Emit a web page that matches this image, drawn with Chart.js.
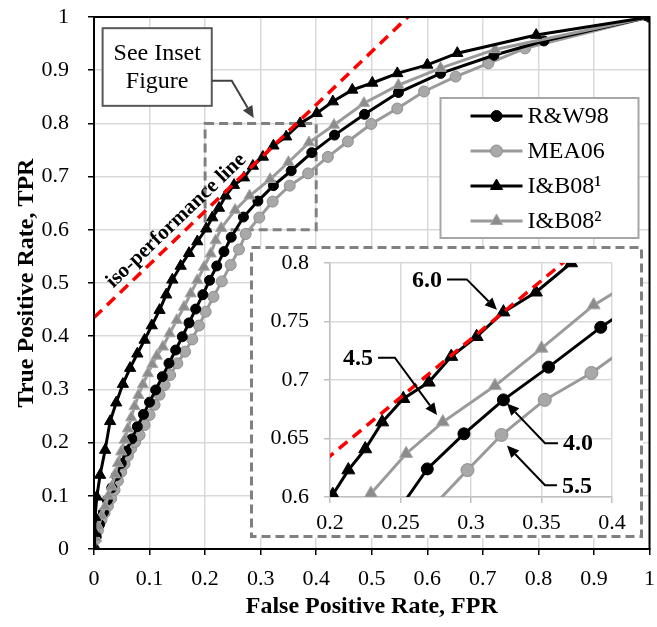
<!DOCTYPE html>
<html>
<head>
<meta charset="utf-8">
<script src="https://cdn.jsdelivr.net/npm/chart.js@4.4.0/dist/chart.umd.min.js"></script>
<style>
  body { margin: 0; background: #fff; }
  #wrap { position: relative; width: 657px; height: 627px; }
  #main { position: absolute; left: 0; top: 0; }
  #inset { position: absolute; left: 250px; top: 246px; }
</style>
</head>
<body>
<div id="wrap">
  <canvas id="main" width="657" height="627"></canvas>
  <canvas id="inset" width="393" height="292"></canvas>
</div>
<script>
// ROC points (FPR, TPR)
const fprRW98 = [0, 0.004, 0.010, 0.017, 0.024, 0.032, 0.040, 0.049, 0.058, 0.068, 0.078, 0.089, 0.100, 0.111, 0.123, 0.135, 0.147, 0.159, 0.171, 0.183, 0.196, 0.208, 0.221, 0.234, 0.247, 0.269, 0.295, 0.323, 0.355, 0.392, 0.433, 0.487, 0.548, 0.624, 0.720, 0.810, 1];
const tprRW98 = [0, 0.023, 0.046, 0.069, 0.092, 0.115, 0.138, 0.161, 0.184, 0.207, 0.230, 0.253, 0.276, 0.299, 0.324, 0.349, 0.374, 0.399, 0.425, 0.451, 0.478, 0.505, 0.532, 0.559, 0.586, 0.624, 0.654, 0.683, 0.711, 0.745, 0.778, 0.817, 0.858, 0.894, 0.928, 0.955, 1];

const fprMEA06 = [0, 0.002, 0.007, 0.013, 0.019, 0.025, 0.031, 0.037, 0.043, 0.049, 0.055, 0.061, 0.067, 0.074, 0.082, 0.091, 0.100, 0.109, 0.118, 0.127, 0.137, 0.150, 0.164, 0.177, 0.189, 0.201, 0.215, 0.230, 0.246, 0.261, 0.273, 0.2975, 0.3216, 0.3523, 0.3854, 0.421, 0.457, 0.499, 0.546, 0.594, 0.651, 0.710, 0.776, 1];
const tprMEA06 = [0, 0.017, 0.035, 0.054, 0.068, 0.081, 0.095, 0.111, 0.128, 0.145, 0.160, 0.175, 0.189, 0.201, 0.214, 0.233, 0.252, 0.271, 0.290, 0.308, 0.327, 0.349, 0.371, 0.394, 0.420, 0.446, 0.474, 0.503, 0.534, 0.563, 0.592, 0.623, 0.653, 0.683, 0.706, 0.737, 0.766, 0.799, 0.828, 0.860, 0.888, 0.913, 0.941, 1];

const fprIB08a = [0, 0.001, 0.002, 0.005, 0.011, 0.020, 0.029, 0.040, 0.052, 0.065, 0.078, 0.091, 0.104, 0.118, 0.130, 0.141, 0.156, 0.171, 0.186, 0.202, 0.213, 0.225, 0.237, 0.252, 0.270, 0.286, 0.304, 0.323, 0.346, 0.371, 0.401, 0.430, 0.465, 0.501, 0.546, 0.600, 0.654, 0.796, 1];
const tprIB08a = [0, 0.030, 0.060, 0.098, 0.139, 0.186, 0.240, 0.275, 0.310, 0.340, 0.367, 0.393, 0.420, 0.449, 0.478, 0.506, 0.532, 0.556, 0.578, 0.602, 0.623, 0.641, 0.664, 0.684, 0.698, 0.720, 0.737, 0.758, 0.775, 0.800, 0.819, 0.841, 0.863, 0.876, 0.894, 0.910, 0.932, 0.966, 1];

const fprIB08b = [0, 0.004, 0.008, 0.014, 0.020, 0.026, 0.032, 0.038, 0.043, 0.049, 0.055, 0.061, 0.067, 0.073, 0.080, 0.088, 0.097, 0.105, 0.113, 0.124, 0.136, 0.149, 0.162, 0.174, 0.186, 0.198, 0.210, 0.219, 0.229, 0.254, 0.280, 0.317, 0.350, 0.387, 0.432, 0.486, 0.548, 0.624, 0.722, 1];
const tprIB08b = [0, 0.020, 0.042, 0.062, 0.080, 0.100, 0.117, 0.140, 0.161, 0.183, 0.205, 0.226, 0.247, 0.268, 0.289, 0.309, 0.330, 0.347, 0.363, 0.380, 0.405, 0.430, 0.455, 0.480, 0.505, 0.530, 0.555, 0.580, 0.603, 0.637, 0.664, 0.695, 0.727, 0.764, 0.797, 0.838, 0.872, 0.904, 0.939, 1];

// iso-performance line end points
const isoFpr = [0, 0.565];
const isoTpr = [0.435, 1.0];

const seriesNames = ['R&W98', 'MEA06', 'I&B08\u00B9', 'I&B08\u00B2'];
const seriesFpr = [fprRW98, fprMEA06, fprIB08a, fprIB08b];
const seriesTpr = [tprRW98, tprMEA06, tprIB08a, tprIB08b];

// threshold labels in the inset
const thresholdLabels = ['6.0', '4.5', '4.0', '5.5'];

const FONT = '"Liberation Serif", "Times New Roman", serif';

const looks = [
    { line: '#000000', fill: '#000000', edge: '#000000', shape: 'circle', r: 5, order: 3 },
    { line: '#9a9a9a', fill: '#a8a8a8', edge: '#8e8e8e', shape: 'circle', r: 5.5, order: 4 },
    { line: '#000000', fill: '#000000', edge: '#000000', shape: 'triangle', r: 6.5, order: 1 },
    { line: '#9a9a9a', fill: '#8c8c8c', edge: '#a8a8a8', shape: 'triangle', r: 6.5, order: 2 }
];

function toPoints(xs, ys) {
    return xs.map((x, i) => ({ x: x, y: ys[i] }));
}

function tickText(v) {
    return String(Math.round(v * 100) / 100);
}

function buildDatasets(grow) {
    const sets = seriesNames.map((name, i) => ({
        label: name,
        data: toPoints(seriesFpr[i], seriesTpr[i]),
        showLine: true,
        borderColor: looks[i].line,
        borderWidth: 3,
        pointStyle: looks[i].shape,
        pointRadius: looks[i].r + grow,
        pointBackgroundColor: looks[i].fill,
        pointBorderColor: looks[i].edge,
        pointBorderWidth: 1,
        order: looks[i].order
    }));
    sets.push({
        label: 'iso-performance line',
        data: toPoints(isoFpr, isoTpr),
        showLine: true,
        borderColor: '#ff0000',
        borderWidth: 3.5,
        borderDash: [11, 7],
        pointRadius: 0,
        order: 0
    });
    return sets;
}

function marker(ctx, shape, x, y, r, fill, edge) {
    ctx.save();
    ctx.fillStyle = fill;
    ctx.strokeStyle = edge;
    ctx.lineWidth = 1;
    ctx.setLineDash([]);
    ctx.beginPath();
    if (shape === 'circle') {
        ctx.arc(x, y, r, 0, Math.PI * 2);
    } else {
        for (let k = 0; k < 3; k++) {
            const a = k * 2 * Math.PI / 3;
            const px = x + Math.sin(a) * r, py = y - Math.cos(a) * r;
            if (k === 0) ctx.moveTo(px, py); else ctx.lineTo(px, py);
        }
        ctx.closePath();
    }
    ctx.fill();
    ctx.stroke();
    ctx.restore();
}

function arrow(ctx, pts, color, width) {
    const n = pts.length;
    const [ex, ey] = pts[n - 1];
    const [px, py] = pts[n - 2];
    const ang = Math.atan2(ey - py, ex - px);
    const head = 12, half = 5.5;
    ctx.save();
    ctx.strokeStyle = color;
    ctx.fillStyle = color;
    ctx.lineWidth = width;
    ctx.setLineDash([]);
    ctx.beginPath();
    ctx.moveTo(pts[0][0], pts[0][1]);
    for (let i = 1; i < n - 1; i++) ctx.lineTo(pts[i][0], pts[i][1]);
    ctx.lineTo(ex - Math.cos(ang) * head, ey - Math.sin(ang) * head);
    ctx.stroke();
    ctx.beginPath();
    ctx.moveTo(ex, ey);
    ctx.lineTo(ex - Math.cos(ang) * head - Math.sin(ang) * half, ey - Math.sin(ang) * head + Math.cos(ang) * half);
    ctx.lineTo(ex - Math.cos(ang) * head + Math.sin(ang) * half, ey - Math.sin(ang) * head - Math.cos(ang) * half);
    ctx.closePath();
    ctx.fill();
    ctx.restore();
}

// decorations for the main chart
const mainDecor = {
    id: 'mainDecor',
    beforeDatasetsDraw(chart) {
        const { ctx, scales: { x, y } } = chart;
        // dashed zoom box (0.2-0.4, 0.6-0.8)
        ctx.save();
        ctx.strokeStyle = '#808080';
        ctx.lineWidth = 3;
        ctx.setLineDash([9, 5]);
        const x0 = x.getPixelForValue(0.2), x1 = x.getPixelForValue(0.4);
        const y0 = y.getPixelForValue(0.8), y1 = y.getPixelForValue(0.6);
        ctx.strokeRect(x0, y0, x1 - x0, y1 - y0);
        ctx.restore();
    },
    afterDatasetsDraw(chart) {
        const { ctx, chartArea: a, scales: { x, y } } = chart;
        const X = v => x.getPixelForValue(v), Y = v => y.getPixelForValue(v);

        // frame
        ctx.save();
        ctx.strokeStyle = '#000';
        ctx.lineWidth = 2;
        ctx.strokeRect(a.left, a.top, a.right - a.left, a.bottom - a.top);
        ctx.restore();

        // iso-performance label, parallel to the red line
        const ang = Math.atan2(Y(isoTpr[1]) - Y(isoTpr[0]), X(isoFpr[1]) - X(isoFpr[0]));
        ctx.save();
        ctx.translate(X(0.148), Y(0.617));
        ctx.rotate(ang);
        ctx.font = 'bold 21px ' + FONT;
        ctx.fillStyle = '#000';
        ctx.textAlign = 'center';
        ctx.textBaseline = 'middle';
        ctx.fillText('iso-performance line', 0, 0);
        ctx.restore();

        // "See Inset Figure" box and arrow
        const bx0 = X(0.0155), bx1 = X(0.212), by0 = Y(0.979), by1 = Y(0.833);
        ctx.save();
        ctx.fillStyle = '#fff';
        ctx.fillRect(bx0, by0, bx1 - bx0, by1 - by0);
        ctx.strokeStyle = '#595959';
        ctx.lineWidth = 2;
        ctx.strokeRect(bx0, by0, bx1 - bx0, by1 - by0);
        ctx.fillStyle = '#000';
        ctx.font = '24px ' + FONT;
        ctx.textAlign = 'center';
        ctx.textBaseline = 'middle';
        const cx = (bx0 + bx1) / 2, cy = (by0 + by1) / 2;
        ctx.fillText('See Inset', cx, cy - 13);
        ctx.fillText('Figure', cx, cy + 15);
        ctx.restore();
        arrow(ctx, [[bx1, Y(0.880)], [X(0.248), Y(0.880)], [X(0.2875), Y(0.810)]], '#404040', 2);

        // legend
        const lx = a.right - 209, ly = a.top + 81, lw = 198, lh = 140;
        ctx.save();
        ctx.fillStyle = '#fff';
        ctx.fillRect(lx, ly, lw, lh);
        ctx.strokeStyle = '#a6a6a6';
        ctx.lineWidth = 2;
        ctx.strokeRect(lx, ly, lw, lh);
        ctx.font = '24px ' + FONT;
        ctx.textBaseline = 'middle';
        seriesNames.forEach((name, i) => {
            const ry = ly + 18 + i * 35;
            ctx.strokeStyle = looks[i].line;
            ctx.lineWidth = 3;
            ctx.beginPath();
            ctx.moveTo(lx + 30, ry);
            ctx.lineTo(lx + 82, ry);
            ctx.stroke();
            marker(ctx, looks[i].shape, lx + 56, ry, looks[i].r + 0.5, looks[i].fill, looks[i].edge);
            ctx.fillStyle = '#000';
            ctx.fillText(name, lx + 87, ry + 1);
        });
        ctx.restore();
    }
};

// decorations for the inset
const insetNotes = [
    { text: thresholdLabels[0], at: [0.2688, 0.786], elbow: [0.297, 0.786], tip: [0.3184, 0.760] },
    { text: thresholdLabels[1], at: [0.2199, 0.719], elbow: [0.246, 0.719], tip: [0.2759, 0.670] },
    { text: thresholdLabels[2], at: [0.3759, 0.646], elbow: [0.3525, 0.646], tip: [0.3255, 0.680] },
    { text: thresholdLabels[3], at: [0.3752, 0.610], elbow: [0.3525, 0.610], tip: [0.3255, 0.644] }
];

const insetDecor = {
    id: 'insetDecor',
    beforeDraw(chart) {
        const { ctx, width, height } = chart;
        ctx.save();
        ctx.fillStyle = '#fff';
        ctx.fillRect(0, 0, width, height);
        ctx.restore();
    },
    afterDatasetsDraw(chart) {
        const { ctx, scales: { x, y } } = chart;
        const X = v => x.getPixelForValue(v), Y = v => y.getPixelForValue(v);
        ctx.save();
        ctx.font = 'bold 24px ' + FONT;
        ctx.fillStyle = '#000';
        ctx.textAlign = 'center';
        ctx.textBaseline = 'middle';
        insetNotes.forEach(n => {
            const tx = X(n.at[0]), ty = Y(n.at[1]);
            ctx.fillText(n.text, tx, ty + 1);
            const w = ctx.measureText(n.text).width / 2 + 5;
            const ex = X(n.elbow[0]);
            const sx = ex > tx ? tx + w : tx - w;
            arrow(ctx, [[sx, ty], [ex, Y(n.elbow[1])], [X(n.tip[0]), Y(n.tip[1])]], '#000', 2);
        });
        ctx.restore();
    },
    afterDraw(chart) {
        const { ctx, width, height } = chart;
        ctx.save();
        ctx.strokeStyle = '#808080';
        ctx.lineWidth = 3;
        ctx.setLineDash([9, 5]);
        ctx.strokeRect(1.5, 1.5, width - 3, height - 3);
        ctx.restore();
    }
};

new Chart(document.getElementById('main'), {
    type: 'scatter',
    data: { datasets: buildDatasets(0) },
    options: {
        responsive: false,
        animation: false,
        layout: { padding: { top: 17, right: 3, left: 0, bottom: 0 } },
        plugins: { legend: { display: false }, tooltip: { enabled: false } },
        scales: {
            x: {
                type: 'linear', min: 0, max: 1,
                ticks: { stepSize: 0.1, color: '#000', font: { family: FONT, size: 22 }, padding: 11, maxRotation: 0, callback: tickText },
                grid: { color: '#d9d9d9', lineWidth: 1.5, tickColor: '#000', tickLength: 6 },
                border: { color: '#000', width: 2 },
                title: { display: true, text: 'False Positive Rate, FPR', color: '#000', font: { family: FONT, size: 24, weight: 'bold' }, padding: 6 },
                afterFit(s) { s.height = 78; s.paddingLeft = 0; s.paddingRight = 0; }
            },
            y: {
                type: 'linear', min: 0, max: 1,
                ticks: { stepSize: 0.1, color: '#000', font: { family: FONT, size: 22 }, padding: 19, callback: tickText },
                grid: { color: '#d9d9d9', lineWidth: 1.5, tickColor: '#000', tickLength: 6 },
                border: { color: '#000', width: 2 },
                title: { display: true, text: 'True Positive Rate, TPR', color: '#000', font: { family: FONT, size: 24, weight: 'bold' }, padding: { top: 12, bottom: 0 } },
                afterFit(s) { s.width = 94; s.paddingTop = 0; s.paddingBottom = 0; }
            }
        }
    },
    plugins: [mainDecor]
});

new Chart(document.getElementById('inset'), {
    type: 'scatter',
    data: { datasets: buildDatasets(1) },
    options: {
        responsive: false,
        animation: false,
        layout: { padding: { top: 17, right: 31, left: 0, bottom: 0 } },
        plugins: { legend: { display: false }, tooltip: { enabled: false } },
        scales: {
            x: {
                type: 'linear', min: 0.2, max: 0.4,
                ticks: { stepSize: 0.05, color: '#000', font: { family: FONT, size: 22 }, padding: 7, maxRotation: 0, callback: tickText },
                grid: { color: '#d9d9d9', lineWidth: 1.5, tickColor: '#c0c0c0', tickLength: 6 },
                border: { color: '#c0c0c0', width: 1.5 },
                afterFit(s) { s.height = 41; s.paddingLeft = 0; s.paddingRight = 0; }
            },
            y: {
                type: 'linear', min: 0.6, max: 0.8,
                ticks: { stepSize: 0.05, color: '#000', font: { family: FONT, size: 22 }, padding: 15, callback: tickText },
                grid: { color: '#d9d9d9', lineWidth: 1.5, tickColor: '#c0c0c0', tickLength: 6 },
                border: { color: '#c0c0c0', width: 1.5 },
                afterFit(s) { s.width = 80; s.paddingTop = 0; s.paddingBottom = 0; }
            }
        }
    },
    plugins: [insetDecor]
});
</script>
</body>
</html>
